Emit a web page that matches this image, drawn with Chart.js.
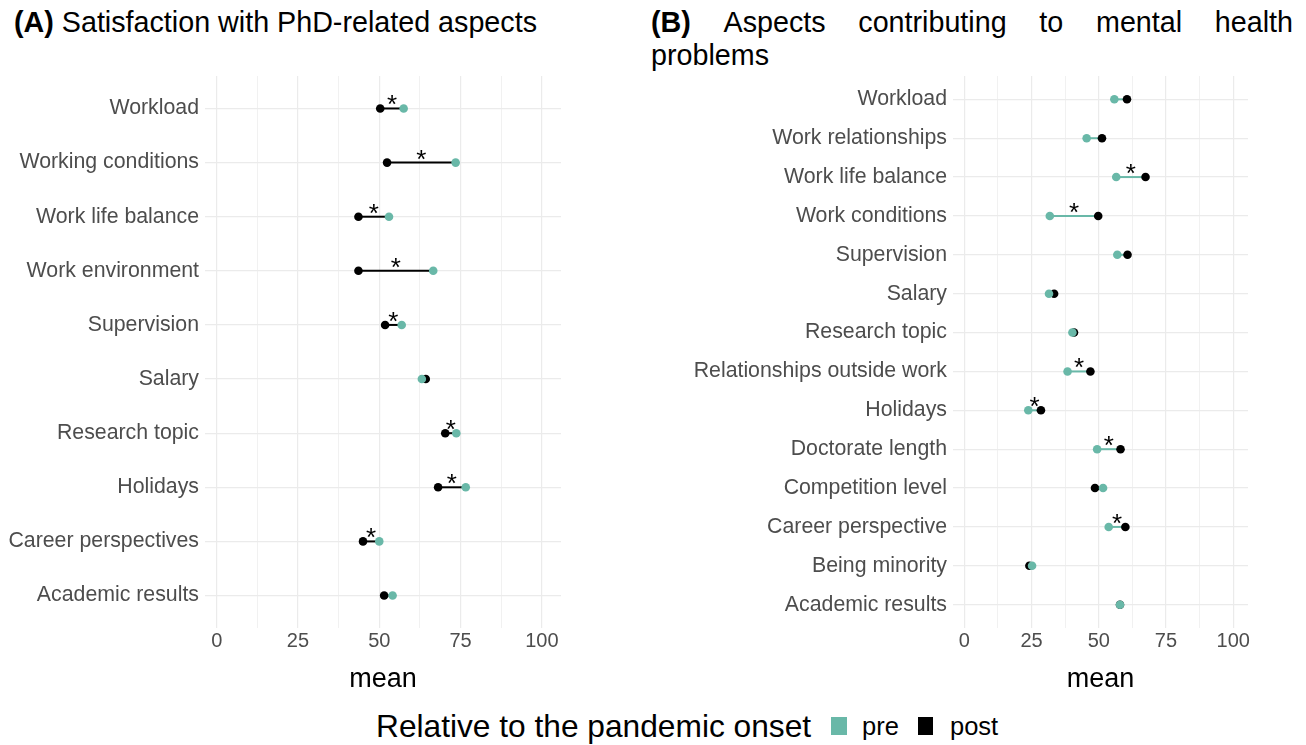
<!DOCTYPE html>
<html>
<head>
<meta charset="utf-8">
<script src="https://cdn.jsdelivr.net/npm/chart.js"></script>
<style>
  html, body { margin:0; padding:0; background:#fff; }
  body { width:1306px; height:745px; position:relative; overflow:hidden; font-family:"Liberation Sans", Arial, sans-serif; color:#000; }
  .box { position:absolute; }
  .title { position:absolute; font-size:28.7px; line-height:33px; white-space:nowrap; }
  .title b { font-weight:bold; }
  .leg { position:absolute; white-space:nowrap; }
</style>
</head>
<body>
<script>
// ---------- DATA ----------
const catsA = ['Workload','Working conditions','Work life balance','Work environment','Supervision','Salary','Research topic','Holidays','Career perspectives','Academic results'];
const preA  = [57.5, 73.5, 53.0, 66.6, 56.9, 63.1, 73.7, 76.6, 50.0, 54.1];
const postA = [50.3, 52.4, 43.6, 43.6, 51.8, 64.3, 70.3, 68.1, 45.0, 51.5];
const sigA  = [1, 1, 1, 1, 1, 0, 1, 1, 1, 0];

const catsB = ['Workload','Work relationships','Work life balance','Work conditions','Supervision','Salary','Research topic','Relationships outside work','Holidays','Doctorate length','Competition level','Career perspective','Being minority','Academic results'];
const preB  = [55.8, 45.5, 56.5, 31.8, 56.9, 31.5, 40.2, 38.4, 23.8, 49.4, 51.6, 53.7, 25.2, 57.9];
const postB = [60.5, 51.2, 67.4, 49.8, 60.7, 33.4, 40.8, 46.9, 28.5, 58.1, 48.6, 59.9, 24.2, 57.9];
const sigB  = [0, 0, 1, 1, 0, 0, 0, 1, 1, 1, 0, 1, 0, 0];

const xTicks = [0, 12.5, 25, 37.5, 50, 62.5, 75, 87.5, 100];
const titleA = 'Satisfaction with PhD-related aspects';
const titleBWords = ['Aspects', 'contributing', 'to', 'mental', 'health'];
const titleBLine2 = 'problems';
const xTitle = 'mean';
const legendTitle = 'Relative to the pandemic onset';
const legendLabels = ['pre', 'post'];
</script>

<div class="title" style="left:14px; top:6px;"><b>(A)</b> <span id="tA"></span></div>
<div class="title" id="tB1" style="left:651px; top:6px; width:642px; display:flex; justify-content:space-between;"></div>
<div class="title" id="tB2" style="left:651px; top:39px;"></div>

<div class="box" style="left:0; top:0; width:620px; height:700px;"><canvas id="cA"></canvas></div>
<div class="box" style="left:650px; top:0; width:656px; height:700px;"><canvas id="cB"></canvas></div>

<div class="leg" id="legT" style="left:376px; top:708px; font-size:31.7px; line-height:36px;"></div>
<div class="leg" style="left:831px; top:717px; width:16px; height:18px; background:#69b8a8;"></div>
<div class="leg" id="leg1" style="left:862px; top:711px; font-size:25.5px; line-height:30px;"></div>
<div class="leg" style="left:918px; top:717px; width:15px; height:18px; background:#000;"></div>
<div class="leg" id="leg2" style="left:950px; top:711px; font-size:25.5px; line-height:30px;"></div>

<script>
const TEAL = '#69b8a8';
const FONT = '"Liberation Sans", Arial, sans-serif';

document.getElementById('tA').textContent = titleA;
const tB1 = document.getElementById('tB1');
['(B)'].concat(titleBWords).forEach((w, i) => {
  const s = document.createElement(i === 0 ? 'b' : 'span');
  s.textContent = w;
  tB1.appendChild(s);
});
document.getElementById('tB2').textContent = titleBLine2;
document.getElementById('legT').textContent = legendTitle;
document.getElementById('leg1').textContent = legendLabels[0];
document.getElementById('leg2').textContent = legendLabels[1];

const starPlugin = {
  id: 'stars',
  afterDatasetsDraw(chart, args, opts) {
    const {ctx, scales} = chart;
    ctx.save();
    ctx.fillStyle = '#000';
    ctx.font = '26px ' + FONT;
    ctx.textAlign = 'center';
    ctx.textBaseline = 'alphabetic';
    opts.sig.forEach((s, i) => {
      if (!s) return;
      const x = scales.x.getPixelForValue((opts.pre[i] + opts.post[i]) / 2);
      const y = scales.y.getPixelForValue(i);
      ctx.fillText('*', x, y + 5);
    });
    ctx.restore();
  }
};

function makeChart(id, cats, pre, post, sig, lineColor, xmin, xmax, yW) {
  const datasets = [
    { data: pre.map((v, i) => ({x: v, y: i})), backgroundColor: TEAL, borderWidth: 0, pointRadius: 4.3, order: 0 },
    { data: post.map((v, i) => ({x: v, y: i})), backgroundColor: '#000', borderWidth: 0, pointRadius: 4.3, order: 1 }
  ];
  cats.forEach((c, i) => {
    datasets.push({ data: [{x: pre[i], y: i}, {x: post[i], y: i}], showLine: true, borderColor: lineColor, borderWidth: 2, pointRadius: 0, order: 2 });
  });
  return new Chart(document.getElementById(id), {
    type: 'scatter',
    data: { datasets },
    plugins: [starPlugin],
    options: {
      responsive: true,
      maintainAspectRatio: false,
      animation: false,
      layout: { padding: { top: 76, right: (id === 'cA' ? 59 : 58), left: 0, bottom: 0 } },
      plugins: {
        legend: { display: false },
        tooltip: { enabled: false },
        stars: { sig, pre, post }
      },
      scales: {
        x: {
          type: 'linear', min: xmin, max: xmax,
          afterBuildTicks: s => { s.ticks = xTicks.map(v => ({value: v})); },
          afterFit: s => { s.height = 72; },
          ticks: { callback: v => (v % 25 === 0 ? String(v) : ''), font: { size: 20, family: FONT }, color: '#4d4d4d', padding: 1, maxRotation: 0, autoSkip: false },
          grid: { color: '#ebebeb', lineWidth: c => (c.tick && c.tick.value % 25 === 0 ? 1.2 : 0.7), drawTicks: false },
          border: { display: false },
          title: { display: true, text: xTitle, font: { size: 27, family: FONT }, color: '#000', padding: { top: 0, bottom: 4 } }
        },
        y: {
          type: 'linear', reverse: true, min: -0.6, max: cats.length - 0.4,
          afterBuildTicks: s => { s.ticks = cats.map((c, i) => ({value: i})); },
          afterFit: s => { s.width = yW; },
          ticks: { callback: v => cats[v], font: { size: 21.3, family: FONT }, color: '#4d4d4d', padding: 6, autoSkip: false },
          grid: { color: '#ebebeb', lineWidth: 1.2, drawTicks: false },
          border: { display: false }
        }
      }
    }
  });
}

makeChart('cA', catsA, preA, postA, sigA, '#000', -3.6, 105.9, 205);
makeChart('cB', catsB, preB, postB, sigB, TEAL, -4.2, 105.5, 303);
</script>
</body>
</html>
